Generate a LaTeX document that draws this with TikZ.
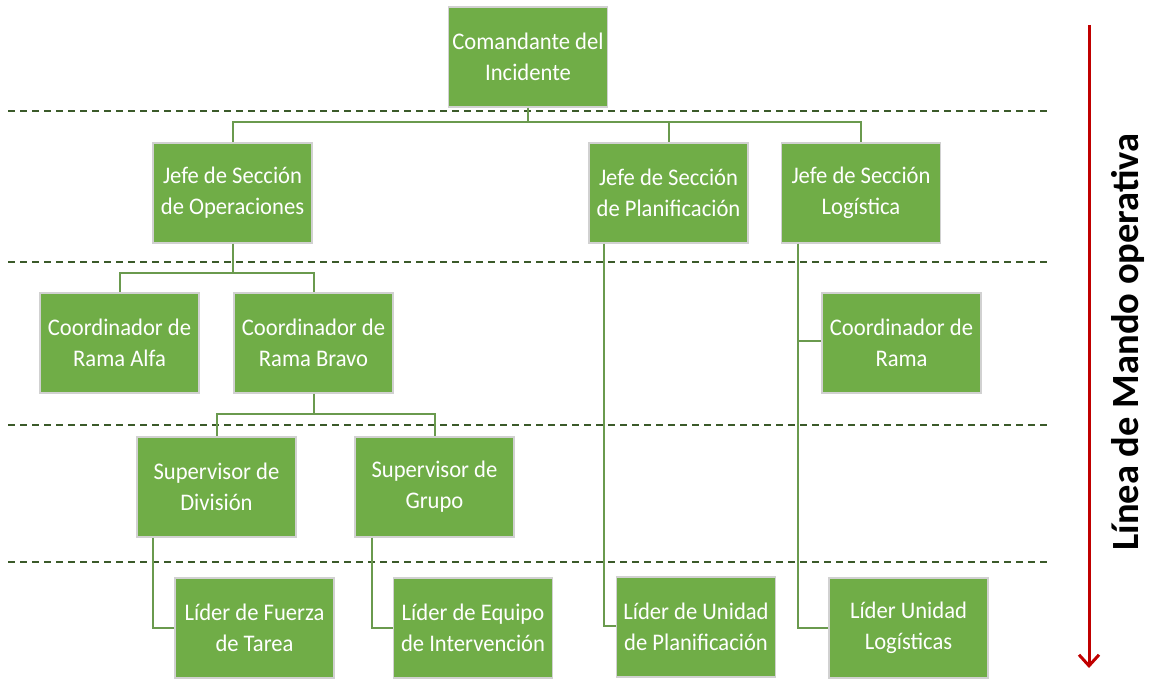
\documentclass[tikz,border=0pt]{standalone}
\usepackage{fontspec}
\setmainfont{Carlito}
\newfontfamily\boxfont[FakeStretch=0.95]{Carlito}
\usetikzlibrary{arrows.meta}
\definecolor{boxgreen}{HTML}{70AD47}
\definecolor{linegreen}{HTML}{6A9A4E}
\definecolor{dashgreen}{HTML}{3B5A2A}
\definecolor{arrowred}{HTML}{C00000}
\begin{document}
\begin{tikzpicture}[x=1pt,y=-1pt,
  orgbox/.style={draw=black!18,line width=1.2pt,fill=boxgreen,text=white,
    minimum width=159pt,minimum height=100pt,inner sep=0pt,align=center,
    font=\boxfont\fontsize{23.8}{31}\selectfont},
  conn/.style={draw=linegreen,line width=2pt},
  level/.style={draw=dashgreen,line width=1.6pt,dash pattern=on 7pt off 5pt},
  lbl/.style={font=\fontsize{38.5}{40}\selectfont\bfseries,text=black}]
\useasboundingbox (0,0) rectangle (1153,682);
% dashed level lines
\coordinate (d1a) at (8,111);  \coordinate (d1b) at (1048,111);
\coordinate (d2a) at (8,262);  \coordinate (d2b) at (1048,262);
\coordinate (d3a) at (8,425);  \coordinate (d3b) at (1048,425);
\coordinate (d4a) at (8,562);  \coordinate (d4b) at (1048,562);
\draw[level] (d1a) -- (d1b);
\draw[level] (d2a) -- (d2b);
\draw[level] (d3a) -- (d3b);
\draw[level] (d4a) -- (d4b);
% boxes
\node[orgbox] (ci) at (528,57) {Comandante del\\Incidente};
\node[orgbox] (jo) at (232.5,193) {Jefe de Sección\\de Operaciones};
\node[orgbox] (jp) at (668.5,193) {Jefe de Sección\\de Planificación};
\node[orgbox] (jl) at (861,193) {Jefe de Sección\\Logística};
\node[orgbox] (ca) at (119.5,343) {Coordinador de\\Rama Alfa};
\node[orgbox] (cb) at (313.5,343) {Coordinador de\\Rama Bravo};
\node[orgbox] (cr) at (901.5,343) {Coordinador de\\Rama};
\node[orgbox] (sd) at (216.5,487) {Supervisor de\\División};
\node[orgbox] (sg) at (434.5,487) {Supervisor de\\Grupo};
\node[orgbox] (lf) at (254.5,628) {Líder de Fuerza\\de Tarea};
\node[orgbox] (le) at (473,628) {Líder de Equipo\\de Intervención};
\node[orgbox] (lp) at (696,627) {Líder de Unidad\\de Planificación};
\node[orgbox] (ll) at (908.5,628) {Líder Unidad\\Logísticas};
% connectors
\draw[conn] (ci.south) -- ++(0,14) -| (jo.north);
\draw[conn] (ci.south) ++(0,14) -| (jp.north);
\draw[conn] (ci.south) ++(0,14) -| (jl.north);
\draw[conn] (jo.south) -- ++(0,29) -| (ca.north);
\draw[conn] (jo.south) ++(0,29) -| (cb.north);
\draw[conn] (cb.south) -- ++(0,20) -| (sd.north);
\draw[conn] (cb.south) ++(0,20) -| (sg.north);
\draw[conn] ([xshift=-63.5pt]sd.south) |- (lf.west);
\draw[conn] ([xshift=-62.5pt]sg.south) |- (le.west);
\draw[conn] ([xshift=-64.5pt]jp.south) |- ([yshift=1pt]lp.west);
\draw[conn] ([xshift=-63pt]jl.south) |- (ll.west);
\draw[conn] ([xshift=-63pt]jl.south) |- ([yshift=2pt]cr.west);
% command line arrow
\coordinate (ar1) at (1089,25);
\coordinate (ar2) at (1089,668);
\draw[draw=arrowred,line width=3pt,-{Straight Barb[length=11pt,width=20pt,line width=3pt]}] (ar1) -- (ar2);
\node[lbl,rotate=90] (ml) at (1128,342) {Línea de Mando operativa};
\end{tikzpicture}
\end{document}
